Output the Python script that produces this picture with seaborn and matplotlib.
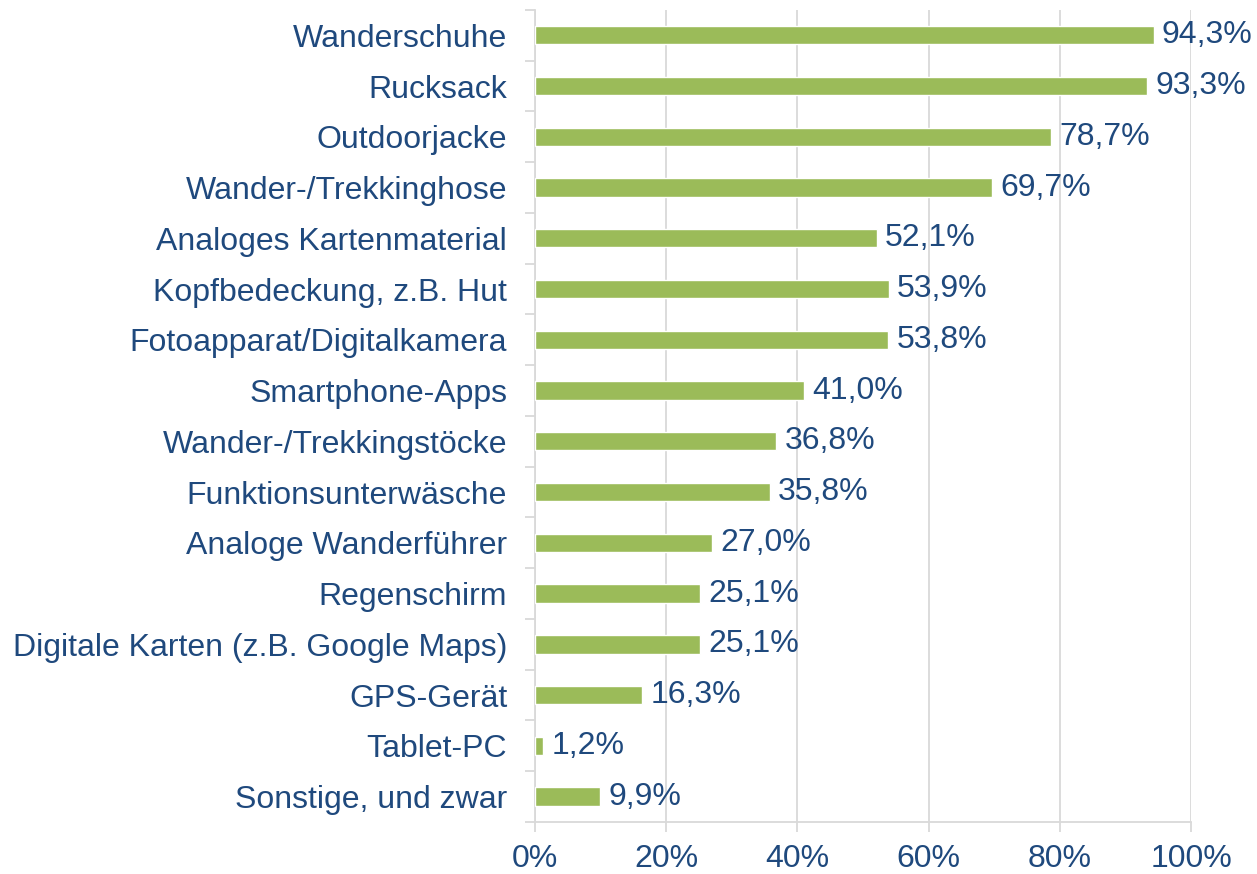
import matplotlib
matplotlib.use("Agg")
import matplotlib.pyplot as plt
import seaborn as sns
import numpy as np

# Daten
kategorien = [
    "Wanderschuhe", "Rucksack", "Outdoorjacke", "Wander-/Trekkinghose",
    "Analoges Kartenmaterial", "Kopfbedeckung, z.B. Hut",
    "Fotoapparat/Digitalkamera", "Smartphone-Apps", "Wander-/Trekkingstöcke",
    "Funktionsunterwäsche", "Analoge Wanderführer", "Regenschirm",
    "Digitale Karten (z.B. Google Maps)", "GPS-Gerät", "Tablet-PC",
    "Sonstige, und zwar",
]
anteile = [94.3, 93.3, 78.7, 69.7, 52.1, 53.9, 53.8, 41.0, 36.8, 35.8,
           27.0, 25.1, 25.1, 16.3, 1.2, 9.9]
x_ticks = [0, 20, 40, 60, 80, 100]

gruen = "#9BBB59"
blau = "#1F497D"
grau = "#D9D9D9"

sns.set_style("white")
plt.rcParams["font.family"] = ["Liberation Sans", "DejaVu Sans"]

fig = plt.figure(figsize=(12.57, 8.74), dpi=100)
ax = fig.add_axes([0.4256, 0.0595, 0.5219, 0.9291])

sns.barplot(x=anteile, y=kategorien, color=gruen, orient="h",
            width=0.36, saturation=1, ax=ax, zorder=3)

labels = [f"{v:.1f}%".replace(".", ",") for v in anteile]
ax.bar_label(ax.containers[0], labels=labels, padding=6,
             fontsize=23, color=blau)

ax.set_xlim(0, 100)
ax.set_ylim(len(kategorien) - 0.5, -0.5)
ax.set_xticks(x_ticks)
ax.set_xticklabels([f"{t}%" for t in x_ticks])
ax.xaxis.grid(True, color=grau, linewidth=1.3, zorder=0)
ax.yaxis.grid(False)

# Striche zwischen den Kategorien
ax.set_yticks(np.arange(len(kategorien) + 1) - 0.5, minor=True)
ax.tick_params(axis="y", which="major", length=0, pad=20,
               labelsize=23, labelcolor=blau)
ax.tick_params(axis="y", which="minor", length=7, width=1.3,
               color=grau, left=True)
ax.tick_params(axis="x", which="major", length=7, width=1.3, color=grau,
               pad=9, labelsize=23, labelcolor=blau, bottom=True)

for side in ["top", "right"]:
    ax.spines[side].set_visible(False)
for side in ["left", "bottom"]:
    ax.spines[side].set_color(grau)
    ax.spines[side].set_linewidth(1.3)

ax.set_xlabel("")
ax.set_ylabel("")

fig.savefig("out.png", dpi=100)
